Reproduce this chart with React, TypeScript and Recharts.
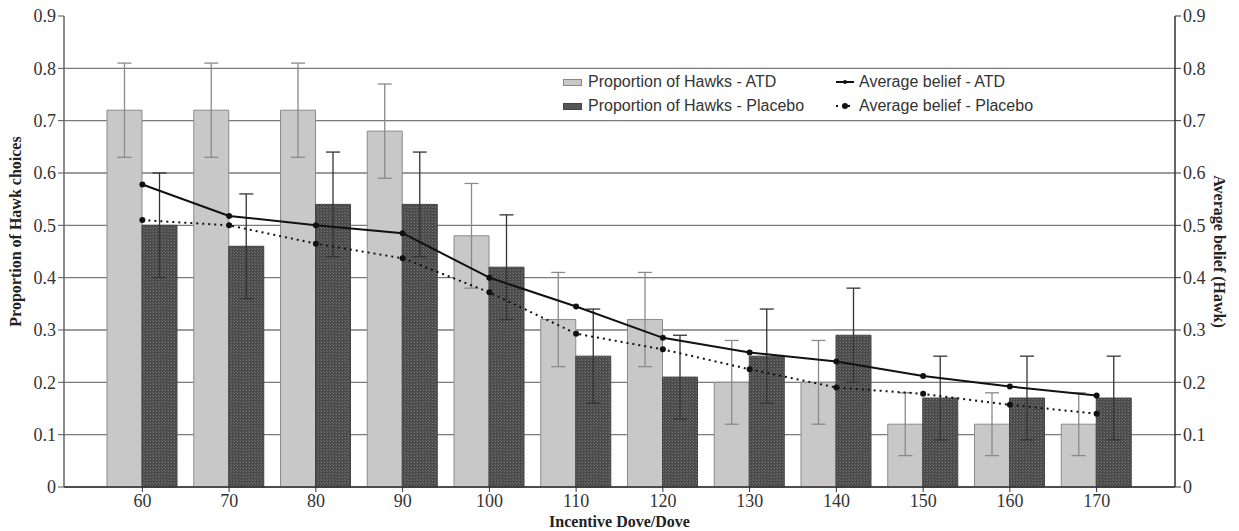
import React from 'react';
import { ComposedChart, Bar, Line, XAxis, YAxis, CartesianGrid, ErrorBar } from 'recharts';

const categories = [60, 70, 80, 90, 100, 110, 120, 130, 140, 150, 160, 170];
const hawksATD = [0.72, 0.72, 0.72, 0.68, 0.48, 0.32, 0.32, 0.2, 0.2, 0.12, 0.12, 0.12];
const hawksATDErr = [0.09, 0.09, 0.09, 0.09, 0.1, 0.09, 0.09, 0.08, 0.08, 0.06, 0.06, 0.06];
const hawksPlacebo = [0.5, 0.46, 0.54, 0.54, 0.42, 0.25, 0.21, 0.25, 0.29, 0.17, 0.17, 0.17];
const hawksPlaceboErr = [0.1, 0.1, 0.1, 0.1, 0.1, 0.09, 0.08, 0.09, 0.09, 0.08, 0.08, 0.08];
const beliefATD = [0.578, 0.518, 0.5, 0.485, 0.4, 0.345, 0.285, 0.257, 0.24, 0.212, 0.192, 0.175];
const beliefPlacebo = [0.51, 0.5, 0.465, 0.437, 0.372, 0.293, 0.263, 0.225, 0.19, 0.178, 0.157, 0.14];
const yTicks = [0, 0.1, 0.2, 0.3, 0.4, 0.5, 0.6, 0.7, 0.8, 0.9];
const gridValues = [0, 0.1, 0.2, 0.3, 0.4, 0.5, 0.6, 0.7, 0.8];

const data = categories.map((c, i) => ({
  cat: String(c),
  atd: hawksATD[i],
  atdErr: hawksATDErr[i],
  placebo: hawksPlacebo[i],
  placeboErr: hawksPlaceboErr[i],
  bATD: beliefATD[i],
  bPlacebo: beliefPlacebo[i],
}));

const serif = '"Liberation Serif", "Times New Roman", serif';
const sans = '"Liberation Sans", Arial, sans-serif';

const fmt = (v: number) => (v === 0 ? '0' : String(Math.round(v * 10) / 10));

const LegendBox = () => (
  <div
    style={{
      position: 'absolute',
      left: 563,
      top: 70,
      fontFamily: sans,
      fontSize: 16,
      color: '#333',
      lineHeight: '24px',
      display: 'flex',
    }}
  >
    <div style={{ width: 272 }}>
      <div style={{ display: 'flex', alignItems: 'center' }}>
        <span style={{ display: 'inline-block', width: 17, height: 5, background: '#c8c8c8', border: '1px solid #888', marginRight: 6 }} />
        Proportion of Hawks - ATD
      </div>
      <div style={{ display: 'flex', alignItems: 'center' }}>
        <span style={{ display: 'inline-block', width: 17, height: 5, background: '#555', border: '1px solid #444', marginRight: 6 }} />
        Proportion of Hawks - Placebo
      </div>
    </div>
    <div>
      <div style={{ display: 'flex', alignItems: 'center' }}>
        <svg width={20} height={10} style={{ marginRight: 4 }}>
          <line x1={1} y1={5} x2={19} y2={5} stroke="#111" strokeWidth={2} />
          <circle cx={10} cy={5} r={2} fill="#111" />
        </svg>
        Average belief - ATD
      </div>
      <div style={{ display: 'flex', alignItems: 'center' }}>
        <svg width={20} height={10} style={{ marginRight: 4 }}>
          <line x1={1} y1={5} x2={19} y2={5} stroke="#111" strokeWidth={2} strokeDasharray="2 4" />
          <circle cx={10} cy={5} r={3} fill="#111" />
        </svg>
        Average belief - Placebo
      </div>
    </div>
  </div>
);

export default function App() {
  return (
    <div style={{ position: 'absolute', left: 0, top: 0, width: 1239, height: 531, background: '#fff' }}>
      <ComposedChart
        width={1239}
        height={531}
        data={data}
        margin={{ top: 16, right: 0, bottom: 0, left: 0 }}
        barCategoryGap={8}
        barGap={0}
      >
        <defs>
          <pattern id="hatch" patternUnits="userSpaceOnUse" width="3" height="3">
            <rect width="3" height="3" fill="#4a4a4a" />
            <rect x="0" y="0" width="1" height="1" fill="#777" />
            <rect x="2" y="2" width="1" height="1" fill="#6a6a6a" />
          </pattern>
        </defs>
        <CartesianGrid yAxisId="left" vertical={false} horizontalValues={gridValues} stroke="#7a7a7a" strokeWidth={1.3} />
        <XAxis
          dataKey="cat"
          height={44}
          padding={{ left: 35, right: 35 }}
          tick={{ fontFamily: serif, fontSize: 18, fill: '#333' }}
          tickLine={{ stroke: '#333' }}
          tickSize={5}
          axisLine={{ stroke: '#333', strokeWidth: 1.5 }}
          label={{ value: 'Incentive Dove/Dove', position: 'insideBottom', offset: 4, style: { fontFamily: serif, fontSize: 16, fontWeight: 'bold', fill: '#222' } }}
        />
        <YAxis
          yAxisId="left"
          width={64}
          domain={[0, 0.9]}
          ticks={yTicks}
          tickFormatter={fmt}
          interval={0}
          tick={{ fontFamily: serif, fontSize: 18, fill: '#333' }}
          tickLine={{ stroke: '#555' }}
          tickSize={6}
          axisLine={{ stroke: '#666', strokeWidth: 1.5 }}
          label={{ value: 'Proportion of Hawk choices', angle: -90, position: 'insideLeft', dx: 10, dy: -20, style: { textAnchor: 'middle', fontFamily: serif, fontSize: 16, fontWeight: 'bold', fill: '#222' } }}
        />
        <YAxis
          yAxisId="right"
          orientation="right"
          width={64}
          domain={[0, 0.9]}
          ticks={yTicks}
          tickFormatter={fmt}
          interval={0}
          tick={{ fontFamily: serif, fontSize: 18, fill: '#333' }}
          tickLine={{ stroke: '#333' }}
          tickSize={6}
          axisLine={{ stroke: '#333', strokeWidth: 1.5 }}
          label={{ value: 'Average belief (Hawk)', angle: 90, position: 'insideRight', dx: -14, style: { textAnchor: 'middle', fontFamily: serif, fontSize: 16, fontWeight: 'bold', fill: '#222' } }}
        />
        <Bar yAxisId="left" dataKey="atd" fill="#c8c8c8" stroke="#8a8a8a" strokeWidth={1} isAnimationActive={false}>
          <ErrorBar dataKey="atdErr" width={7} stroke="#8a8a8a" strokeWidth={1.3} />
        </Bar>
        <Bar yAxisId="left" dataKey="placebo" fill="url(#hatch)" stroke="#444" strokeWidth={1} isAnimationActive={false}>
          <ErrorBar dataKey="placeboErr" width={7} stroke="#333" strokeWidth={1.3} />
        </Bar>
        <Line yAxisId="right" dataKey="bATD" stroke="#111" strokeWidth={2} dot={{ r: 2, fill: '#111', stroke: '#111' }} isAnimationActive={false} />
        <Line yAxisId="right" dataKey="bPlacebo" stroke="#111" strokeWidth={2} strokeDasharray="2 4" dot={{ r: 3, fill: '#111', stroke: 'none' }} isAnimationActive={false} />
      </ComposedChart>
      <LegendBox />
    </div>
  );
}
